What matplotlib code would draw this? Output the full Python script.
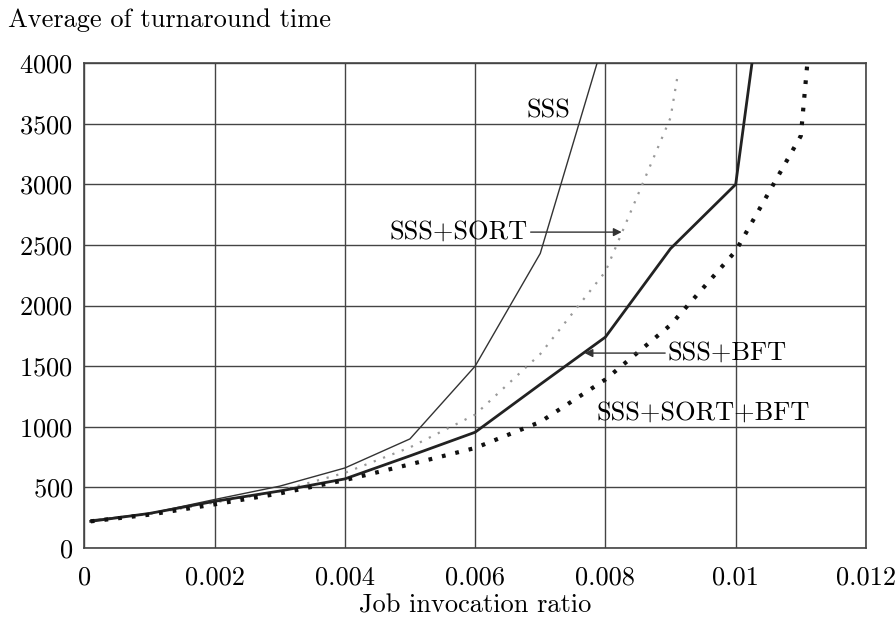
import matplotlib
matplotlib.use("Agg")
import matplotlib.pyplot as plt

plt.rcParams['font.family'] = ['cmr10', 'DejaVu Serif']
plt.rcParams['axes.formatter.use_mathtext'] = True

# Data
sss_x = [0.0001, 0.001, 0.002, 0.003, 0.004, 0.005, 0.006, 0.007, 0.008]
sss_y = [230, 285, 400, 510, 660, 900, 1500, 2430, 4230]

sort_x = [0.0001, 0.001, 0.002, 0.003, 0.004, 0.005, 0.006, 0.007, 0.008, 0.009, 0.0091]
sort_y = [225, 280, 375, 470, 620, 830, 1100, 1600, 2280, 3550, 3870]

bft_x = [0.0001, 0.001, 0.002, 0.003, 0.004, 0.005, 0.006, 0.007, 0.008, 0.009, 0.01, 0.011]
bft_y = [220, 285, 385, 470, 570, 760, 955, 1350, 1740, 2470, 3000, 7000]

sortbft_x = [0.0001, 0.001, 0.002, 0.003, 0.004, 0.005, 0.006, 0.007, 0.008, 0.009, 0.01, 0.011, 0.0112]
sortbft_y = [220, 275, 360, 450, 560, 690, 825, 1040, 1390, 1840, 2450, 3400, 4600]

xticks = [0, 0.002, 0.004, 0.006, 0.008, 0.01, 0.012]
xtick_labels = ['0', '0.002', '0.004', '0.006', '0.008', '0.01', '0.012']
yticks = [0, 500, 1000, 1500, 2000, 2500, 3000, 3500, 4000]

FS = 19

fig = plt.figure(figsize=(8.96, 6.19), dpi=100)
ax = fig.add_axes([0.094, 0.1147, 0.8725, 0.7833])

grid_c = '#444444'
ax.plot(sss_x, sss_y, color='#333333', linewidth=1.0, zorder=3)
ax.plot(sort_x, sort_y, color='#999999', linewidth=1.6, linestyle=(0, (1, 3.5)), zorder=3)
ax.plot(bft_x, bft_y, color='#222222', linewidth=2.0, zorder=3)
ax.plot(sortbft_x, sortbft_y, color='#111111', linewidth=3.0, linestyle=(0, (0.9, 2.4)), zorder=3)

ax.set_xlim(0, 0.012)
ax.set_ylim(0, 4000)
ax.set_xticks(xticks)
ax.set_xticklabels(xtick_labels)
ax.set_yticks(yticks)
ax.tick_params(length=0, labelsize=FS)
ax.tick_params(axis='x', pad=13)
ax.tick_params(axis='y', pad=8)
ax.grid(True, color=grid_c, linewidth=1.0)
ax.set_axisbelow(True)
for s in ax.spines.values():
    s.set_color(grid_c)
    s.set_linewidth(1.2)

fig.text(0.530, 0.010, 'Job invocation ratio', fontsize=FS, ha='center', va='baseline')
fig.text(0.009, 0.967, 'Average of turnaround time', fontsize=FS, ha='left', va='center')

# labels and arrows
ax.text(0.00712, 3612, 'SSS', fontsize=FS, ha='center', va='center')
ax.annotate('SSS+SORT', xy=(0.00825, 2606), xytext=(0.00469, 2606),
            fontsize=FS, ha='left', va='center',
            arrowprops=dict(arrowstyle='-|>', color='#333333', lw=1.0,
                            shrinkA=0, shrinkB=0, mutation_scale=12))
ax.annotate('SSS+BFT', xy=(0.00768, 1608), xytext=(0.00896, 1608),
            fontsize=FS, ha='left', va='center',
            arrowprops=dict(arrowstyle='-|>', color='#333333', lw=1.0,
                            shrinkA=0, shrinkB=0, mutation_scale=12))
ax.text(0.00787, 1113, 'SSS+SORT+BFT', fontsize=FS, ha='left', va='center')

fig.savefig('out.png', dpi=100)
